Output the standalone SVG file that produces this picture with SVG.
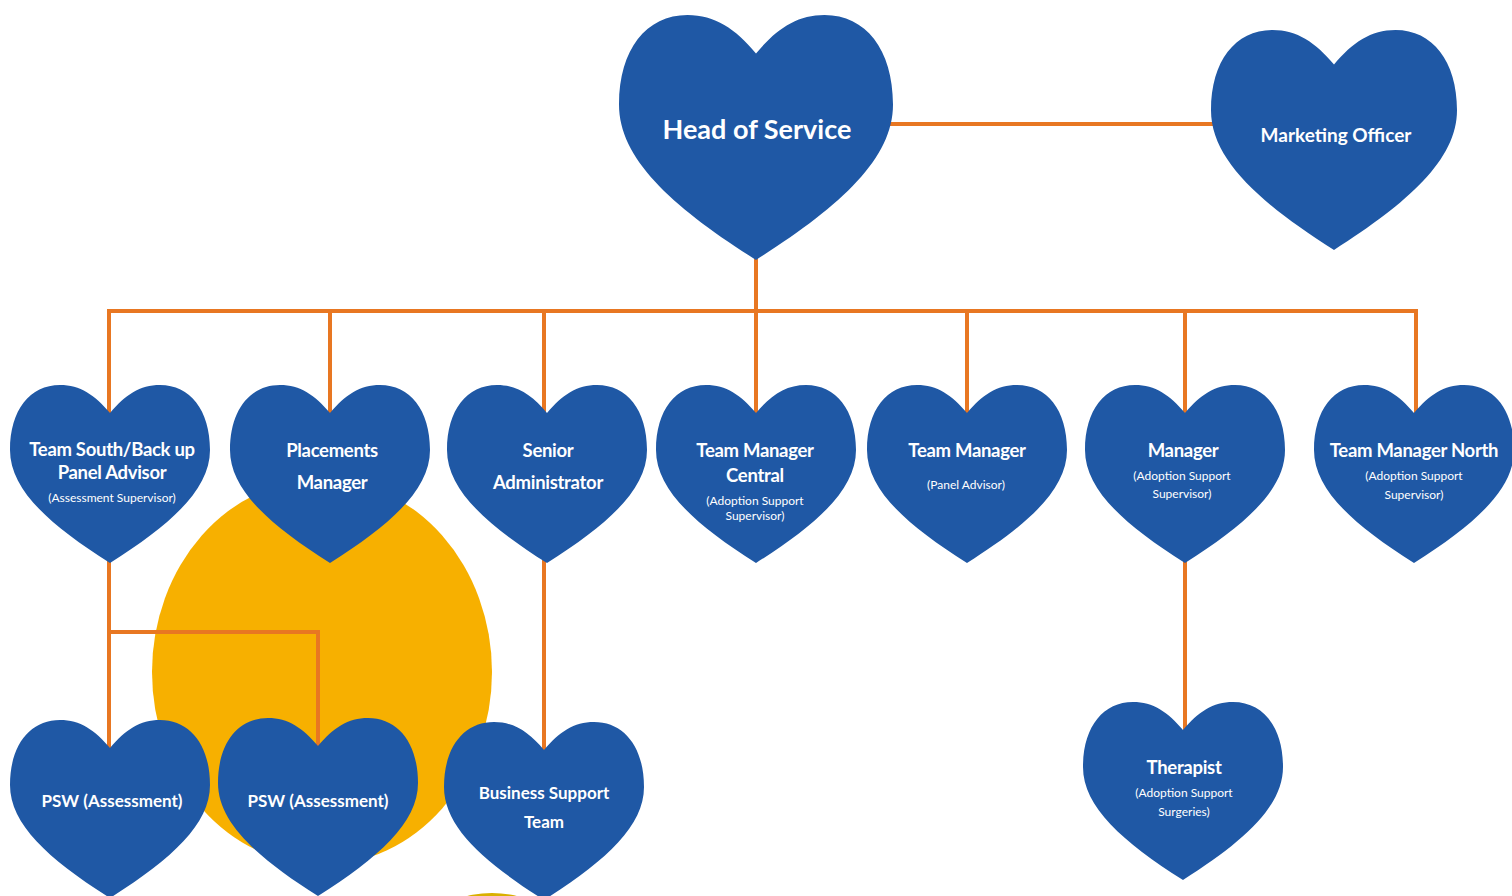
<svg xmlns="http://www.w3.org/2000/svg" xmlns:xlink="http://www.w3.org/1999/xlink" width="1512" height="896" viewBox="0 0 1512 896">
<style>
.heart{fill:#1F58A5}
.conn{stroke:#E87722;stroke-width:4;fill:none}
.t{font-family:Lato,"Open Sans",sans-serif;font-weight:700;fill:#fff;text-anchor:middle}
.s{font-family:Lato,"Open Sans",sans-serif;font-weight:400;fill:#fff;text-anchor:middle;font-size:12px}
.m{font-size:18.5px;letter-spacing:-0.3px}
</style>
<defs>
<path id="heart" d="M0,28 C-15,10 -30,0 -50,0 C-80,0 -100,25 -100,65 C-100,105 -60,140 0,178 C60,140 100,105 100,65 C100,25 80,0 50,0 C30,0 15,10 0,28 Z"/>
</defs>
<rect width="1512" height="896" fill="#fff"/>
<ellipse cx="322" cy="672" rx="170" ry="193" fill="#F7B000"/>
<ellipse cx="492" cy="990" rx="100" ry="97" fill="#D9B000"/>
<g id="connectors" class="conn">
<path d="M880,124 H1218"/>
<path d="M756,255 V311"/>
<path d="M109,415 V311 H1416 V415"/>
<path d="M330,311 V415"/>
<path d="M544,311 V415"/>
<path d="M756,311 V415"/>
<path d="M967,311 V415"/>
<path d="M1185,311 V415"/>
<path d="M109,558 V750"/>
<path d="M109,632 H318 V748"/>
<path d="M544,558 V752"/>
<path d="M1185,558 V732"/>
</g>
<g id="head"><use xlink:href="#heart" class="heart" transform="translate(756,15) scale(1.37,1.376)"/><text class="t" x="757" y="139" font-size="27">Head of Service</text></g>
<g id="marketing"><use xlink:href="#heart" class="heart" transform="translate(1334,30) scale(1.23,1.236)"/><text class="t" x="1336" y="142" font-size="19">Marketing Officer</text></g>
<g id="teamsouth"><use xlink:href="#heart" class="heart" transform="translate(110,385)"/><text class="t m" x="112" y="456" letter-spacing="-0.6">Team South/Back up</text><text class="t m" x="112" y="479">Panel Advisor</text><text class="s" x="112" y="502">(Assessment Supervisor)</text></g>
<g id="placements"><use xlink:href="#heart" class="heart" transform="translate(330,385)"/><text class="t m" x="332" y="457">Placements</text><text class="t m" x="332" y="489">Manager</text></g>
<g id="senior"><use xlink:href="#heart" class="heart" transform="translate(547,385)"/><text class="t m" x="548" y="457">Senior</text><text class="t m" x="548" y="489">Administrator</text></g>
<g id="tmcentral"><use xlink:href="#heart" class="heart" transform="translate(756,385)"/><text class="t m" x="755" y="457">Team Manager</text><text class="t m" x="755" y="482">Central</text><text class="s" x="755" y="505">(Adoption Support</text><text class="s" x="755" y="520">Supervisor)</text></g>
<g id="tmpanel"><use xlink:href="#heart" class="heart" transform="translate(967,385)"/><text class="t m" x="967" y="457">Team Manager</text><text class="s" x="966" y="489">(Panel Advisor)</text></g>
<g id="manager"><use xlink:href="#heart" class="heart" transform="translate(1185,385)"/><text class="t m" x="1183" y="457">Manager</text><text class="s" x="1182" y="480">(Adoption Support</text><text class="s" x="1182" y="498">Supervisor)</text></g>
<g id="tmnorth"><use xlink:href="#heart" class="heart" transform="translate(1414,385)"/><text class="t m" x="1414" y="457">Team Manager North</text><text class="s" x="1414" y="480">(Adoption Support</text><text class="s" x="1414" y="499">Supervisor)</text></g>
<g id="psw1"><use xlink:href="#heart" class="heart" transform="translate(110,720)"/><text class="t" x="112" y="807" font-size="17">PSW (Assessment)</text></g>
<g id="psw2"><use xlink:href="#heart" class="heart" transform="translate(318,718)"/><text class="t" x="318" y="807" font-size="17">PSW (Assessment)</text></g>
<g id="business"><use xlink:href="#heart" class="heart" transform="translate(544,722)"/><text class="t" x="544" y="799" font-size="17">Business Support</text><text class="t" x="544" y="828" font-size="17">Team</text></g>
<g id="therapist"><use xlink:href="#heart" class="heart" transform="translate(1183,702)"/><text class="t m" x="1184" y="774">Therapist</text><text class="s" x="1184" y="797">(Adoption Support</text><text class="s" x="1184" y="816">Surgeries)</text></g>
</svg>
